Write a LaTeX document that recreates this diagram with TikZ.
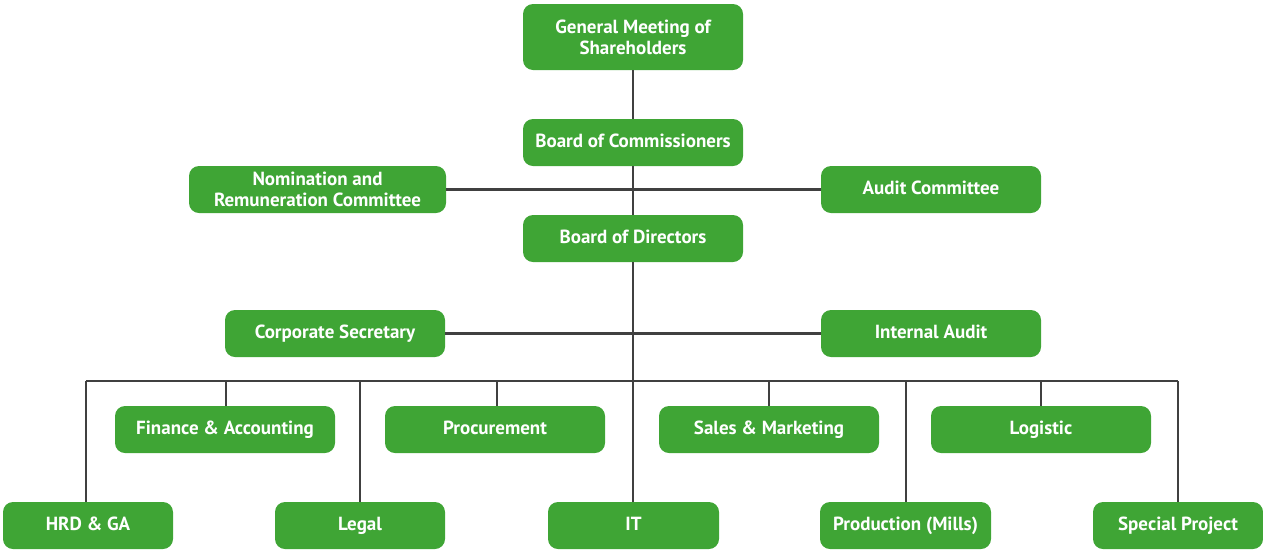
\documentclass[tikz,border=0pt]{standalone}
\usepackage{fontspec}
\setmainfont{PT Sans}
\definecolor{boxgreen}{HTML}{3FA535}
\definecolor{linegray}{HTML}{404040}
\begin{document}
\begin{tikzpicture}[x=1pt,y=-1pt,
  box/.style={fill=boxgreen,rounded corners=10pt,text=white,font=\bfseries\fontsize{19}{21}\selectfont,align=center,inner sep=0pt},
  onebox/.style={box,text height=13.5pt,text depth=4pt},
  conn/.style={draw=linegray,line width=2.6pt}]
\useasboundingbox (0,0) rectangle (1263,550);
\newcommand{\orgbox}[7][onebox]{\node[#1,minimum width=#5,minimum height=#6] (#2) at (#3,#4) {#7};}
\orgbox[box]{gms}{633}{37}{220pt}{66pt}{General Meeting of\\Shareholders}
\orgbox{boc}{633}{142.5}{220pt}{47pt}{Board of Commissioners}
\orgbox[box]{nom}{317.5}{189.5}{257pt}{47pt}{Nomination and\\Remuneration Committee}
\orgbox{aud}{931}{189.5}{220pt}{47pt}{Audit Committee}
\orgbox{bod}{633}{238.5}{220pt}{47pt}{Board of Directors}
\orgbox{cs}{335}{333.5}{220pt}{47pt}{Corporate Secretary}
\orgbox{ia}{931}{333.5}{220pt}{47pt}{Internal Audit}
\orgbox{fin}{225}{429.5}{220pt}{47pt}{Finance \& Accounting}
\orgbox{proc}{495}{429.5}{220pt}{47pt}{Procurement}
\orgbox{sales}{769}{429.5}{220pt}{47pt}{Sales \& Marketing}
\orgbox{log}{1041}{429.5}{220pt}{47pt}{Logistic}
\orgbox{hrd}{88}{525.5}{170pt}{47pt}{HRD \& GA}
\orgbox{legal}{360}{525.5}{170pt}{47pt}{Legal}
\orgbox{it}{633.5}{525.5}{171pt}{47pt}{IT}
\orgbox{prod}{905.5}{525.5}{171pt}{47pt}{Production (Mills)}
\orgbox{spec}{1178}{525.5}{170pt}{47pt}{Special Project}
% connectors
\coordinate (busL) at (86,381);
\coordinate (busR) at (1178,381);
\coordinate (busC) at (633,381);
\draw[conn] (gms.south) -- (boc.north);
\draw[conn] (boc.south) -- (bod.north);
\draw[conn] (nom.east) -- (aud.west);
\draw[conn] (bod.south) -- (busC);
\draw[conn] (cs.east) -- (ia.west);
\draw[conn] (busL) -- (busR);
\draw[conn] (busL) -- (busL |- hrd.north);
\draw[conn] (busR) -- (busR |- spec.north);
\draw[conn] (fin.north -| 226,0) -- (226,381);
\draw[conn] (legal.north) -- (legal.north |- busC);
\draw[conn] (proc.north -| 497,0) -- (497,381);
\draw[conn] (busC) -- (it.north -| busC);
\draw[conn] (sales.north) -- (sales.north |- busC);
\draw[conn] (prod.north -| 906,0) -- (906,381);
\draw[conn] (log.north) -- (log.north |- busC);
\end{tikzpicture}
\end{document}
